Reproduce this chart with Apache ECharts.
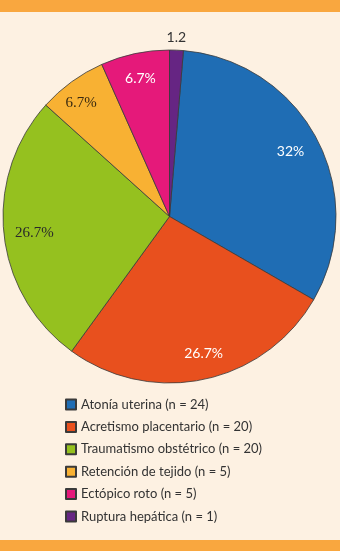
<!DOCTYPE html>
<html>
<head>
<meta charset="utf-8">
<script src="https://cdn.jsdelivr.net/npm/echarts@6/dist/echarts.min.js"></script>
<style>
  html, body { margin: 0; padding: 0; background: #fdf1e2; }
  #wrap { position: relative; width: 340px; height: 551px; overflow: hidden; background: #fdf1e2; }
  .bar { position: absolute; left: 0; width: 340px; background: #f9a73f; }
  #chart { position: absolute; left: 0; top: 0; width: 340px; height: 551px; }
</style>
</head>
<body>
<div id="wrap">
  <div class="bar" style="top:0;height:12px;"></div>
  <div class="bar" style="top:540px;height:11px;"></div>
  <div id="chart"></div>
</div>
<script>
const categories = [
  'Atonía uterina (n = 24)',
  'Acretismo placentario (n = 20)',
  'Traumatismo obstétrico (n = 20)',
  'Retención de tejido (n = 5)',
  'Ectópico roto (n = 5)',
  'Ruptura hepática (n = 1)'
];
const values = [24, 20, 20, 5, 5, 1];
const sliceLabels = ['32%', '26.7%', '26.7%', '6.7%', '6.7%', '1.2'];
const colors = ['#1f6db4', '#e8501e', '#95c11f', '#f8b133', '#e5197a', '#662583'];

const labelStyles = [
  { color: '#ffffff', fontFamily: 'Lato' },
  { color: '#ffffff', fontFamily: 'Lato' },
  { color: '#2a2a2a', fontFamily: 'Liberation Serif', fontSize: 15 },
  { color: '#3a2a10', fontFamily: 'Liberation Serif', fontSize: 15 },
  { color: '#ffffff', fontFamily: 'Lato' },
  { color: '#333333', fontFamily: 'Lato' }
];
const labelShift = [[-3, 0], [5, 0.5], [4, 1.5], [-6, 0], [0, -1.5], [1, -39]];

const chart = echarts.init(document.getElementById('chart'), null, { renderer: 'canvas' });

const mainData = categories.map((c, i) => ({
  name: c, value: values[i], itemStyle: { color: colors[i] }
}));
const labelData = categories.map((c, i) => ({
  name: c, value: values[i],
  label: Object.assign({ formatter: sliceLabels[i] }, labelStyles[i])
}));

const START = 85.2;

chart.setOption({
  animation: false,
  backgroundColor: 'transparent',
  legend: {
    orient: 'vertical',
    left: 60,
    top: 393,
    itemWidth: 10,
    itemHeight: 10,
    itemGap: 9.4,
    icon: 'rect',
    selectedMode: false,
    data: categories,
    textStyle: { fontFamily: 'Lato', fontSize: 13, color: '#333333', lineHeight: 13 }
  },
  series: [
    {
      type: 'pie',
      center: [169.5, 216.5],
      radius: [0, 166.5],
      startAngle: START,
      clockwise: true,
      silent: true,
      label: { show: false },
      labelLine: { show: false },
      itemStyle: { borderColor: '#3a3a3a', borderWidth: 0.8 },
      data: mainData
    },
    {
      type: 'pie',
      center: [169.5, 216.5],
      radius: [120, 154],
      startAngle: START,
      clockwise: true,
      silent: true,
      legendHoverLink: false,
      itemStyle: { color: 'rgba(0,0,0,0)', borderWidth: 0 },
      label: { show: true, position: 'inside', fontSize: 14 },
      labelLine: { show: false },
      labelLayout: function (p) {
        const s = labelShift[p.dataIndex];
        return { dx: s[0], dy: s[1] };
      },
      data: labelData
    }
  ]
});
</script>
</body>
</html>
